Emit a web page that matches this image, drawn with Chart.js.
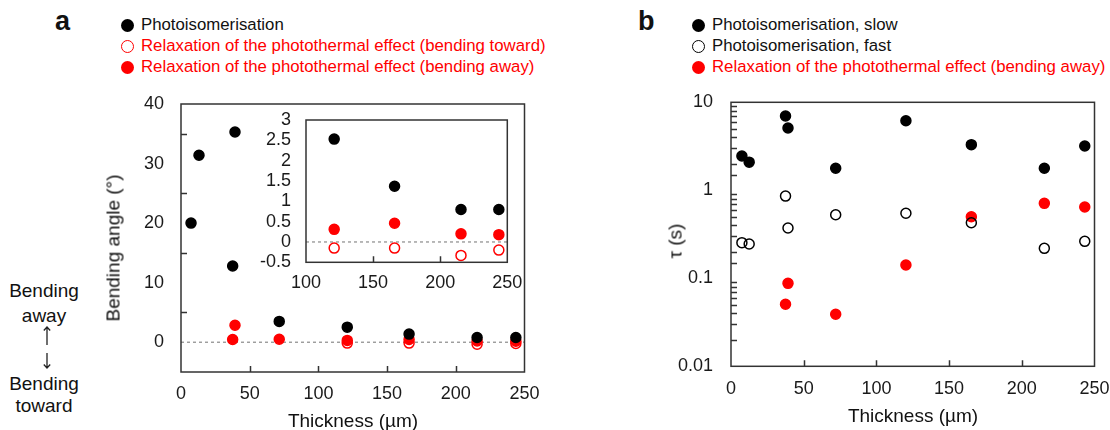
<!DOCTYPE html>
<html>
<head>
<meta charset="utf-8">
<title>Bending angle and time constants vs film thickness</title>
<script src="https://cdn.jsdelivr.net/npm/chart.js@4.4.1/dist/chart.umd.min.js"></script>
<style>
  body { margin: 0; width: 1110px; height: 430px; background: #fff; position: relative; overflow: hidden;
         font-family: "Liberation Sans", Arial, sans-serif; color: #111; }
  .abs { position: absolute; white-space: nowrap; line-height: 1; }
  .panel { font-weight: bold; font-size: 27px; }
  .leg { font-size: 16.8px; }
  .red { color: #f00; }
  .dot { position: absolute; width: 13px; height: 13px; border-radius: 50%; box-sizing: border-box; }
  .title { font-size: 19px; color: #111; }
  .side { font-size: 19px; width: 90px; text-align: center; }
  .rot { transform: translate(-50%, -50%) rotate(-90deg); }
  canvas { position: absolute; }
</style>
</head>
<body>

<!-- panel a legend -->
<div class="abs panel" style="left:55px; top:8px;">a</div>
<div class="dot" style="left:121px; top:18.5px; background:#000;"></div>
<div class="abs leg" style="left:141px; top:17px;">Photoisomerisation</div>
<div class="dot" style="left:121px; top:39.5px; border:1.5px solid #f00;"></div>
<div class="abs leg red" style="left:141px; top:38px;">Relaxation of the photothermal effect (bending toward)</div>
<div class="dot" style="left:121px; top:60.5px; background:#f00;"></div>
<div class="abs leg red" style="left:141px; top:59px;">Relaxation of the photothermal effect (bending away)</div>

<!-- panel b legend -->
<div class="abs panel" style="left:638px; top:8px;">b</div>
<div class="dot" style="left:692px; top:18.5px; background:#000;"></div>
<div class="abs leg" style="left:712px; top:17px;">Photoisomerisation, slow</div>
<div class="dot" style="left:692px; top:39.5px; border:1.5px solid #000;"></div>
<div class="abs leg" style="left:712px; top:38px;">Photoisomerisation, fast</div>
<div class="dot" style="left:692px; top:60.5px; background:#f00;"></div>
<div class="abs leg red" style="left:712px; top:59px;">Relaxation of the photothermal effect (bending away)</div>

<!-- side note -->
<div class="abs side" style="left:-1px; top:281px;">Bending</div>
<div class="abs side" style="left:-1px; top:305.5px;">away</div>
<svg class="abs" style="left:37px; top:324px;" width="20" height="48">
  <path d="M10 3 L10 21 M6.8 6.5 L10 3 L13.2 6.5" stroke="#222" stroke-width="1.3" fill="none"/>
  <path d="M10 29 L10 44 M6.8 40.5 L10 44 L13.2 40.5" stroke="#222" stroke-width="1.3" fill="none"/>
</svg>
<div class="abs side" style="left:-1px; top:374px;">Bending</div>
<div class="abs side" style="left:-1px; top:395.5px;">toward</div>

<canvas id="chartA" width="460" height="340" style="left:100px; top:90px;"></canvas>
<canvas id="chartInset" width="290" height="190" style="left:240px; top:108px;"></canvas>
<canvas id="chartB" width="470" height="342" style="left:640px; top:88px;"></canvas>

<div class="abs title rot" style="left:113px; top:248px;">Bending angle (°)</div>
<div class="abs title" style="left:353px; top:410.5px; transform:translateX(-50%);">Thickness (µm)</div>
<div class="abs title rot" style="left:675px; top:241px;">τ (s)</div>
<div class="abs title" style="left:913px; top:406px; transform:translateX(-50%);">Thickness (µm)</div>

<script>
// panel a: bending angle (deg) vs thickness (um)
const thicknessPhotoA = [7.3, 13.1, 37.6, 39.3, 71.5, 121, 166, 215.5, 243.7];
const anglePhotoA = [20, 31.4, 12.8, 35.3, 3.5, 2.53, 1.37, 0.8, 0.8];
const thicknessTowardA = [121, 166, 215.5, 243.7];
const angleTowardA = [-0.15, -0.15, -0.33, -0.2];
const thicknessAwayA = [37.6, 39.3, 71.5, 121, 166, 215.5, 243.7];
const angleAwayA = [0.45, 2.85, 0.5, 0.31, 0.46, 0.2, 0.18];

// panel b: time constants (s) vs thickness (um)
const thicknessB = [7.5, 12.5, 37.5, 39.2, 72, 120.3, 165.3, 215.5, 243.3];
const tauSlow = [2.45, 2.09, 6.98, 5.1, 1.78, 6.17, 3.3, 1.78, 3.19];
const tauFast = [0.254, 0.245, 0.86, 0.373, 0.528, 0.548, 0.428, 0.219, 0.263];
const thicknessAwayB = [37.5, 39.2, 72, 120.3, 165.3, 215.5, 243.3];
const tauAway = [0.0507, 0.0877, 0.039, 0.1416, 0.501, 0.711, 0.645];

// tick labels
const xTickLabels = [0, 50, 100, 150, 200, 250];
const yTickLabelsA = [0, 10, 20, 30, 40];
const xTickLabelsInset = [100, 150, 200, 250];
const yTickLabelsInset = [-0.5, 0, 0.5, 1, 1.5, 2, 2.5, 3];
const yTickLabelsB = [0.01, 0.1, 1, 10];

function pts(xs, ys) {
  return xs.map((x, i) => ({ x: x, y: ys[i] }));
}

Chart.defaults.font.family = '"Liberation Sans", Arial, sans-serif';
Chart.defaults.font.size = 18;
Chart.defaults.color = '#1a1a1a';
Chart.defaults.animation = false;

// fixed axis sizes so the plot boxes land where they should
function fixX(h) {
  return s => { s.height = h; s.paddingLeft = 0; s.paddingRight = 0; };
}
function fixY(w) {
  return s => { s.width = w; s.paddingTop = 0; s.paddingBottom = 0; };
}

// box around the plot, inward tick marks, dashed zero line
const framePlugin = {
  id: 'frame',
  afterDraw(chart, args, opts) {
    const ctx = chart.ctx, a = chart.chartArea;
    const x = chart.scales.x, y = chart.scales.y;
    ctx.save();
    ctx.strokeStyle = '#333';
    ctx.lineWidth = 1.5;
    ctx.beginPath();
    x.ticks.forEach(t => {
      if (t.value <= x.min || t.value >= x.max) return;
      const px = Math.round(x.getPixelForValue(t.value)) + 0.5;
      ctx.moveTo(px, a.bottom);
      ctx.lineTo(px, a.bottom - 6);
    });
    y.ticks.forEach(t => {
      if ((t.label !== '' && t.label !== undefined) || t.value <= y.min || t.value >= y.max) return;
      const py = Math.round(y.getPixelForValue(t.value)) + 0.5;
      ctx.moveTo(a.left, py);
      ctx.lineTo(a.left + 6, py);
    });
    ctx.stroke();
    ctx.strokeRect(a.left, a.top, a.width, a.height);
    ctx.restore();
  },
  beforeDatasetsDraw(chart, args, opts) {
    const ctx = chart.ctx, a = chart.chartArea, y = chart.scales.y;
    ctx.save();
    if (opts.white) {
      ctx.fillStyle = '#fff';
      ctx.fillRect(a.left, a.top, a.width, a.height);
    }
    if (opts.zero) {
      const py = y.getPixelForValue(0);
      ctx.strokeStyle = '#8a8a8a';
      ctx.lineWidth = 1.2;
      ctx.setLineDash([3, 3]);
      ctx.beginPath();
      ctx.moveTo(a.left, py);
      ctx.lineTo(a.right, py);
      ctx.stroke();
    }
    ctx.restore();
  }
};

function dot(label, data, fill, edge) {
  return {
    label: label,
    data: data,
    pointRadius: 5,
    pointHoverRadius: 5,
    pointBackgroundColor: fill,
    pointBorderColor: edge,
    pointBorderWidth: 1.5,
    backgroundColor: fill,
    borderColor: edge
  };
}

function plainGrid() {
  return { display: false, drawTicks: false };
}

// panel a, main plot
new Chart(document.getElementById('chartA'), {
  type: 'scatter',
  data: {
    datasets: [
      dot('Photoisomerisation', pts(thicknessPhotoA, anglePhotoA), '#000', '#000'),
      dot('Relaxation of the photothermal effect (bending toward)', pts(thicknessTowardA, angleTowardA), 'rgba(0,0,0,0)', '#f00'),
      dot('Relaxation of the photothermal effect (bending away)', pts(thicknessAwayA, angleAwayA), '#f00', '#f00')
    ]
  },
  options: {
    responsive: false,
    layout: { padding: { top: 14, right: 35.5, left: 0, bottom: 0 } },
    plugins: { legend: { display: false }, tooltip: { enabled: false }, frame: { zero: true } },
    scales: {
      x: {
        type: 'linear', min: 0, max: 250,
        afterBuildTicks: s => { s.ticks = xTickLabels.map(v => ({ value: v })); },
        afterFit: fixX(58),
        grid: plainGrid(), border: { display: false },
        ticks: { padding: 11, autoSkip: false, maxRotation: 0 }
      },
      y: {
        type: 'linear', min: -5, max: 40,
        afterFit: fixY(81),
        grid: plainGrid(), border: { display: false },
        ticks: { stepSize: 5, padding: 17, autoSkip: false,
                 callback: v => yTickLabelsA.includes(v) ? String(v) : '' }
      }
    }
  },
  plugins: [framePlugin]
});

// panel a, inset (zoom on thick films)
new Chart(document.getElementById('chartInset'), {
  type: 'scatter',
  data: {
    datasets: [
      dot('Photoisomerisation', pts(thicknessPhotoA, anglePhotoA), '#000', '#000'),
      dot('Relaxation of the photothermal effect (bending toward)', pts(thicknessTowardA, angleTowardA), 'rgba(0,0,0,0)', '#f00'),
      dot('Relaxation of the photothermal effect (bending away)', pts(thicknessAwayA, angleAwayA), '#f00', '#f00')
    ]
  },
  options: {
    responsive: false,
    layout: { padding: { top: 12, right: 22.7, left: 0, bottom: 0 } },
    plugins: { legend: { display: false }, tooltip: { enabled: false }, frame: { zero: true, white: true } },
    scales: {
      x: {
        type: 'linear', min: 100, max: 250,
        afterBuildTicks: s => { s.ticks = xTickLabelsInset.map(v => ({ value: v })); },
        afterFit: fixX(35.7),
        grid: plainGrid(), border: { display: false },
        ticks: { padding: 10, autoSkip: false, maxRotation: 0 }
      },
      y: {
        type: 'linear', min: -0.5, max: 3,
        afterBuildTicks: s => { s.ticks = yTickLabelsInset.map(v => ({ value: v })); },
        afterFit: fixY(66),
        grid: plainGrid(), border: { display: false },
        ticks: { padding: 15, autoSkip: false, callback: v => String(v) }
      }
    }
  },
  plugins: [framePlugin]
});

// panel b
new Chart(document.getElementById('chartB'), {
  type: 'scatter',
  data: {
    datasets: [
      dot('Photoisomerisation, slow', pts(thicknessB, tauSlow), '#000', '#000'),
      dot('Photoisomerisation, fast', pts(thicknessB, tauFast), 'rgba(0,0,0,0)', '#000'),
      dot('Relaxation of the photothermal effect (bending away)', pts(thicknessAwayB, tauAway), '#f00', '#f00')
    ]
  },
  options: {
    responsive: false,
    layout: { padding: { top: 14.3, right: 15.5, left: 0, bottom: 0 } },
    plugins: { legend: { display: false }, tooltip: { enabled: false }, frame: {} },
    scales: {
      x: {
        type: 'linear', min: 0, max: 250,
        afterBuildTicks: s => { s.ticks = xTickLabels.map(v => ({ value: v })); },
        afterFit: fixX(63.7),
        grid: plainGrid(), border: { display: false },
        ticks: { padding: 12, autoSkip: false, maxRotation: 0 }
      },
      y: {
        type: 'logarithmic', min: 0.01, max: 10,
        afterFit: fixY(91),
        grid: plainGrid(), border: { display: false },
        ticks: {
          padding: 18, autoSkip: false,
          callback: v => {
            const lbl = yTickLabelsB.find(l => Math.abs(l - v) / l < 1e-6);
            return lbl === undefined ? '' : String(lbl);
          }
        }
      }
    }
  },
  plugins: [framePlugin]
});
</script>
</body>
</html>
